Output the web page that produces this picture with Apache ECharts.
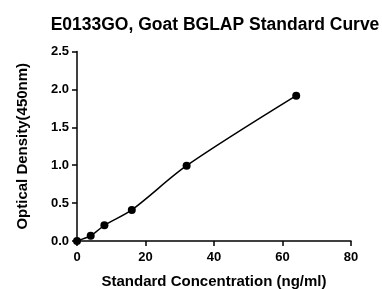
<!DOCTYPE html>
<html><head><meta charset="utf-8">
<script src="https://cdn.jsdelivr.net/npm/echarts@6/dist/echarts.min.js"></script>
<style>html,body{margin:0;padding:0;background:#fff}#c{width:382px;height:289px}</style>
</head><body><div id="c"></div>
<script>
var concentrations = [0, 4, 8, 16, 32, 64];
var odValues = [0.0, 0.07, 0.207, 0.41, 0.993, 1.917];
var xTicks = [0, 20, 40, 60, 80];
var yTicks = [0.0, 0.5, 1.0, 1.5, 2.0, 2.5];
var titleText = 'E0133GO, Goat BGLAP Standard Curve';
var xName = 'Standard Concentration (ng/ml)';
var yName = 'Optical Density(450nm)';

var pts = concentrations.map(function(c, i){ return [c, odValues[i]]; });
var font = 'Liberation Sans, Arial, sans-serif';
var chart = echarts.init(document.getElementById('c'));
chart.setOption({
  animation: false,
  title: { text: titleText, left: 210, top: 11, textAlign: 'center',
    textStyle: { fontFamily: font, fontWeight: 'bold', fontSize: 17.5, color: '#000' } },
  grid: { left: 77, right: 31, top: 51.5, bottom: 48, containLabel: false, outerBoundsMode: 'none' },
  xAxis: { type: 'value', min: 0, max: 80, interval: 20,
    name: xName, nameLocation: 'middle', nameGap: 33,
    nameTextStyle: { fontFamily: font, fontWeight: 'bold', fontSize: 15, color: '#000' },
    axisLine: { show: true, onZero: false, lineStyle: { color: '#000', width: 1.5 } },
    axisTick: { show: true, length: 5, lineStyle: { color: '#000', width: 1.5 } },
    axisLabel: { fontFamily: font, fontWeight: 'bold', fontSize: 13, color: '#000', margin: 10 },
    splitLine: { show: false } },
  yAxis: { type: 'value', min: 0, max: 2.5, interval: 0.5,
    name: yName, nameLocation: 'middle', nameGap: 47, nameRotate: 90,
    nameTextStyle: { fontFamily: font, fontWeight: 'bold', fontSize: 15, color: '#000' },
    axisLine: { show: true, onZero: false, lineStyle: { color: '#000', width: 1.5 } },
    axisTick: { show: true, length: 5, lineStyle: { color: '#000', width: 1.5 } },
    axisLabel: { fontFamily: font, fontWeight: 'bold', fontSize: 13, color: '#000', margin: 8,
      formatter: function(v){ return v.toFixed(1); } },
    splitLine: { show: false } },
  series: [{
    type: 'line', data: pts, smooth: 0.3,
    symbol: 'circle', symbolSize: 8,
    lineStyle: { color: '#000', width: 1.5 },
    itemStyle: { color: '#000' }
  }]
});
</script></body></html>
